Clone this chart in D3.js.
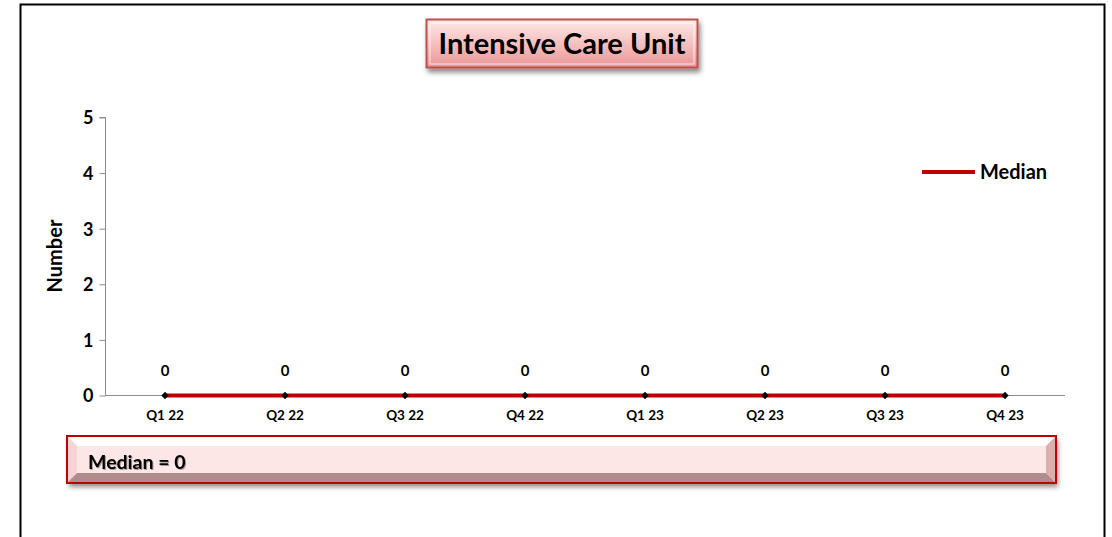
<!DOCTYPE html>
<html><head><meta charset="utf-8">
<script src="https://cdn.jsdelivr.net/npm/d3@7"></script>
<style>body{margin:0;background:#fff}svg{display:block;font-family:Lato,"Open Sans",sans-serif}</style>
</head><body>
<script>
const categories = ["Q1 22","Q2 22","Q3 22","Q4 22","Q1 23","Q2 23","Q3 23","Q4 23"];
const medianValues = [0,0,0,0,0,0,0,0];
const yTicks = [0,1,2,3,4,5];
const titleText = "Intensive Care Unit";
const seriesName = "Median";
const medianNote = "Median = 0";

const W = 1112, H = 537;
const FONT = 'Lato,"Open Sans",sans-serif';
const svg = d3.select("body").append("svg").attr("width", W).attr("height", H);
const defs = svg.append("defs");

const tg = defs.append("linearGradient").attr("id","tg").attr("x1",0).attr("y1",0).attr("x2",0).attr("y2",1);
tg.append("stop").attr("offset","0%").attr("stop-color","#fde9e9");
tg.append("stop").attr("offset","50%").attr("stop-color","#f6c0c0");
tg.append("stop").attr("offset","100%").attr("stop-color","#e89494");

const sh = defs.append("filter").attr("id","sh").attr("x","-10%").attr("y","-30%").attr("width","120%").attr("height","170%");
sh.append("feDropShadow").attr("dx",2).attr("dy",4).attr("stdDeviation",2.5).attr("flood-color","#000").attr("flood-opacity",0.45);

const ts = defs.append("filter").attr("id","ts").attr("x","-5%").attr("y","-20%").attr("width","110%").attr("height","140%");
ts.append("feDropShadow").attr("dx",1).attr("dy",1).attr("stdDeviation",0.6).attr("flood-color","#000").attr("flood-opacity",0.35);

// outer frame
svg.append("path").attr("d",`M20.5,${H} L20.5,4.5 L1104.5,4.5 L1104.5,${H}`).attr("fill","none").attr("stroke","#000").attr("stroke-width",2);

const x = d3.scaleBand().domain(categories).range([105,1065]);
const y = d3.scaleLinear().domain([0,5]).range([395.5,117.5]);

// y axis
const yAxis = svg.append("g").attr("transform","translate(105.5,0)")
  .call(d3.axisLeft(y).tickValues(yTicks).tickSize(6).tickPadding(6).tickFormat(d3.format("d")))
  .attr("font-family",FONT);
yAxis.select(".domain").attr("stroke","#8c8c8c").attr("d",`M-6,${y(5)}H0V${y(0)}`);
yAxis.selectAll(".tick line").attr("stroke","#8c8c8c");
yAxis.selectAll(".tick text").attr("font-size",18).attr("font-weight","bold").attr("fill","#000").attr("dy","0.35em").attr("x",-12);

// x axis
const xAxis = svg.append("g").attr("transform",`translate(0,${y(0)})`)
  .call(d3.axisBottom(x).tickSize(0).tickPadding(15))
  .attr("font-family",FONT);
xAxis.select(".domain").attr("stroke","#8c8c8c").attr("d",`M105,0H1065`);
xAxis.selectAll(".tick text").attr("font-size",13.5).attr("font-weight","bold").attr("fill","#000");

// y label
svg.append("text").attr("transform","translate(62,256) rotate(-90)").attr("text-anchor","middle")
  .attr("font-size",20).attr("font-weight","bold").text("Number");

// line
const cx = d => x(d) + x.bandwidth()/2;
const line = d3.line().x((d,i)=>cx(categories[i])).y(d=>y(d));
svg.append("path").datum(medianValues).attr("d",line).attr("fill","none").attr("stroke","#c00000").attr("stroke-width",4);
svg.selectAll(".mk").data(medianValues).join("path").attr("class","mk")
  .attr("transform",(d,i)=>`translate(${cx(categories[i])},${y(d)})`)
  .attr("d",d3.symbol(d3.symbolDiamond2 || d3.symbolDiamond,34)).attr("fill","#000");
svg.selectAll(".lbl").data(medianValues).join("text").attr("class","lbl")
  .attr("x",(d,i)=>cx(categories[i])).attr("y",d=>y(d)-19.5).attr("text-anchor","middle")
  .attr("font-size",15).attr("font-weight","bold").text(d=>d);

// legend
svg.append("line").attr("x1",922).attr("x2",975).attr("y1",172).attr("y2",172).attr("stroke","#c00000").attr("stroke-width",4);
svg.append("text").attr("x",980).attr("y",179).attr("font-size",20).attr("font-weight","bold").text(seriesName);

// title box
const tb = svg.append("g");
tb.append("rect").attr("x",426.5).attr("y",19.5).attr("width",271).attr("height",48).attr("fill","url(#tg)").attr("stroke","#c0504d").attr("stroke-width",2).attr("filter","url(#sh)");
tb.append("rect").attr("x",430).attr("y",23).attr("width",264).attr("height",41).attr("fill","none").attr("stroke","#fff").attr("stroke-opacity",0.5).attr("stroke-width",1.5);
tb.append("text").attr("x",562).attr("y",54).attr("text-anchor","middle").attr("font-size",29).attr("font-weight","bold").attr("fill","#000").text(titleText);

// median box (bevel)
const bx=67, by=436, bw=989, bh=47, bv=10;
const mb = svg.append("g");
mb.append("rect").attr("x",bx).attr("y",by).attr("width",bw).attr("height",bh).attr("fill","#fde6e6").attr("filter","url(#sh)");
mb.append("polygon").attr("points",`${bx},${by} ${bx+bw},${by} ${bx+bw-bv},${by+bv} ${bx+bv},${by+bv}`).attr("fill","#ffffff");
mb.append("polygon").attr("points",`${bx},${by} ${bx+bv},${by+bv} ${bx+bv},${by+bh-bv} ${bx},${by+bh}`).attr("fill","#f3d5d5");
mb.append("polygon").attr("points",`${bx+bw},${by} ${bx+bw},${by+bh} ${bx+bw-bv},${by+bh-bv} ${bx+bw-bv},${by+bv}`).attr("fill","#d9b0b0");
mb.append("polygon").attr("points",`${bx},${by+bh} ${bx+bv},${by+bh-bv} ${bx+bw-bv},${by+bh-bv} ${bx+bw},${by+bh}`).attr("fill","#b08c8c");
mb.append("rect").attr("x",bx).attr("y",by).attr("width",bw).attr("height",bh).attr("fill","none").attr("stroke","#c00000").attr("stroke-width",2);
mb.append("text").attr("x",88).attr("y",469).attr("font-size",19.5).attr("font-weight","bold").attr("fill","#000").attr("filter","url(#ts)").text(medianNote);
</script>
</body></html>
